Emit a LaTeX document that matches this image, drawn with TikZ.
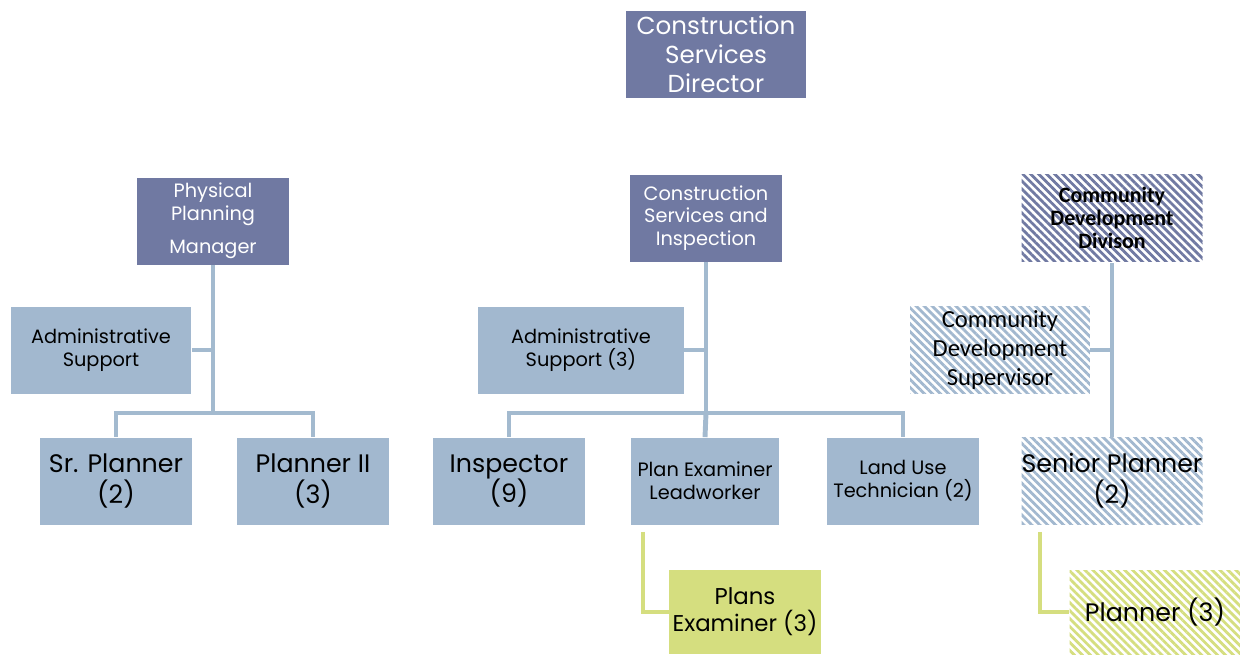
\documentclass[tikz,border=0pt]{standalone}
\usepackage{fontspec}
\setmainfont{Poppins}
\newfontfamily\cdfont{Carlito}
\usetikzlibrary{positioning,patterns.meta}
\definecolor{mgrblue}{HTML}{7079A2}
\definecolor{staffblue}{HTML}{A2B8CF}
\definecolor{leafgreen}{HTML}{D5DE7F}
\definecolor{linkblue}{HTML}{A3BACF}
\tikzset{
	x=0.02cm, y=-0.02cm,
	box/.style={inner sep=0pt, align=center, minimum height=1.74cm, minimum width=3.04cm},
	mgr/.style={box, fill=mgrblue, text=white, font=\fontsize{11}{13}\selectfont},
	staff/.style={box, fill=staffblue},
	leaf/.style={box, fill=leafgreen, minimum height=1.68cm},
	hatch/.style={box, pattern={Lines[angle=-45,distance=3.2pt,line width=1.6pt]}, pattern color=#1},
	link/.style={line width=2.8pt, linkblue},
	greenlink/.style={line width=2.8pt, leafgreen},
	big/.style={font=\fontsize{14.4}{17.5}\selectfont},
	small/.style={font=\fontsize{11}{13}\selectfont},
}
\begin{document}
\begin{tikzpicture}
\useasboundingbox (0,0) rectangle (1240,654);

% top
\node[mgr, minimum width=3.6cm, font=\fontsize{14}{16.4}\selectfont] (dir) at (716,54) {Construction\\Services\\Director};

% physical planning
\node[mgr] (pm) at (213,221) {Physical\\Planning\\[6pt]Manager};
\node[staff, small, minimum width=3.62cm] (la) at (101,350) {Administrative\\Support};
\node[staff, big] (sr) at (116,481) {Sr. Planner\\(2)};
\node[staff, big] (p2) at (313,481) {Planner II\\(3)};

% construction services
\node[mgr] (cs) at (706,218) {Construction\\Services and\\Inspection};
\node[staff, small, minimum width=4.12cm] (ma) at (581,350) {Administrative\\Support (3)};
\node[staff, big] (ins) at (509,481) {Inspector\\(9)};
\node[staff, small, minimum width=2.98cm] (pe) at (705,481) {Plan Examiner\\Leadworker};
\node[staff, small] (lu) at (903,481) {Land Use\\Technician (2)};
\node[leaf, font=\fontsize{13}{15.3}\selectfont] (px) at (745,612) {Plans\\Examiner (3)};

% community development
\node[hatch=mgrblue, minimum width=3.62cm, font=\cdfont\bfseries\fontsize{12.5}{13.2}\selectfont] (cd) at (1112,218) {Community\\Development\\Divison};
\node[hatch=staffblue, minimum width=3.6cm, font=\cdfont\fontsize{14}{16.4}\selectfont] (sup) at (1000,350) {Community\\Development\\Supervisor};
\node[hatch=staffblue, big, minimum width=3.62cm] (sp) at (1112,481) {Senior Planner\\(2)};
\node[hatch=leafgreen, big, minimum width=3.42cm, minimum height=1.68cm] (pl) at (1155,612) {Planner (3)};

% links
\coordinate (lj) at (213,413);
\coordinate (mj) at (706,413);
\draw[link] (pm) -- (lj);
\draw[link] (sr.north) |- (lj) -| (p2.north);
\draw[link] (la.east) -- (la.east -| pm.south);
\draw[link] (cs) -- (mj);
\draw[link] (ins.north) |- (mj) -| (lu.north);
\draw[link] (mj) -- (pe.north);
\draw[link] (ma.east) -- (ma.east -| cs.south);
\draw[link] (cd) -- (sp);
\draw[link] (sup.east) -- (sup.east -| cd.south);
\draw[greenlink] ([xshift=-1.24cm,yshift=-4pt]pe.south) |- (px.west);
\draw[greenlink] ([xshift=-1.44cm,yshift=-4pt]sp.south) |- (pl.west);
\end{tikzpicture}
\end{document}
